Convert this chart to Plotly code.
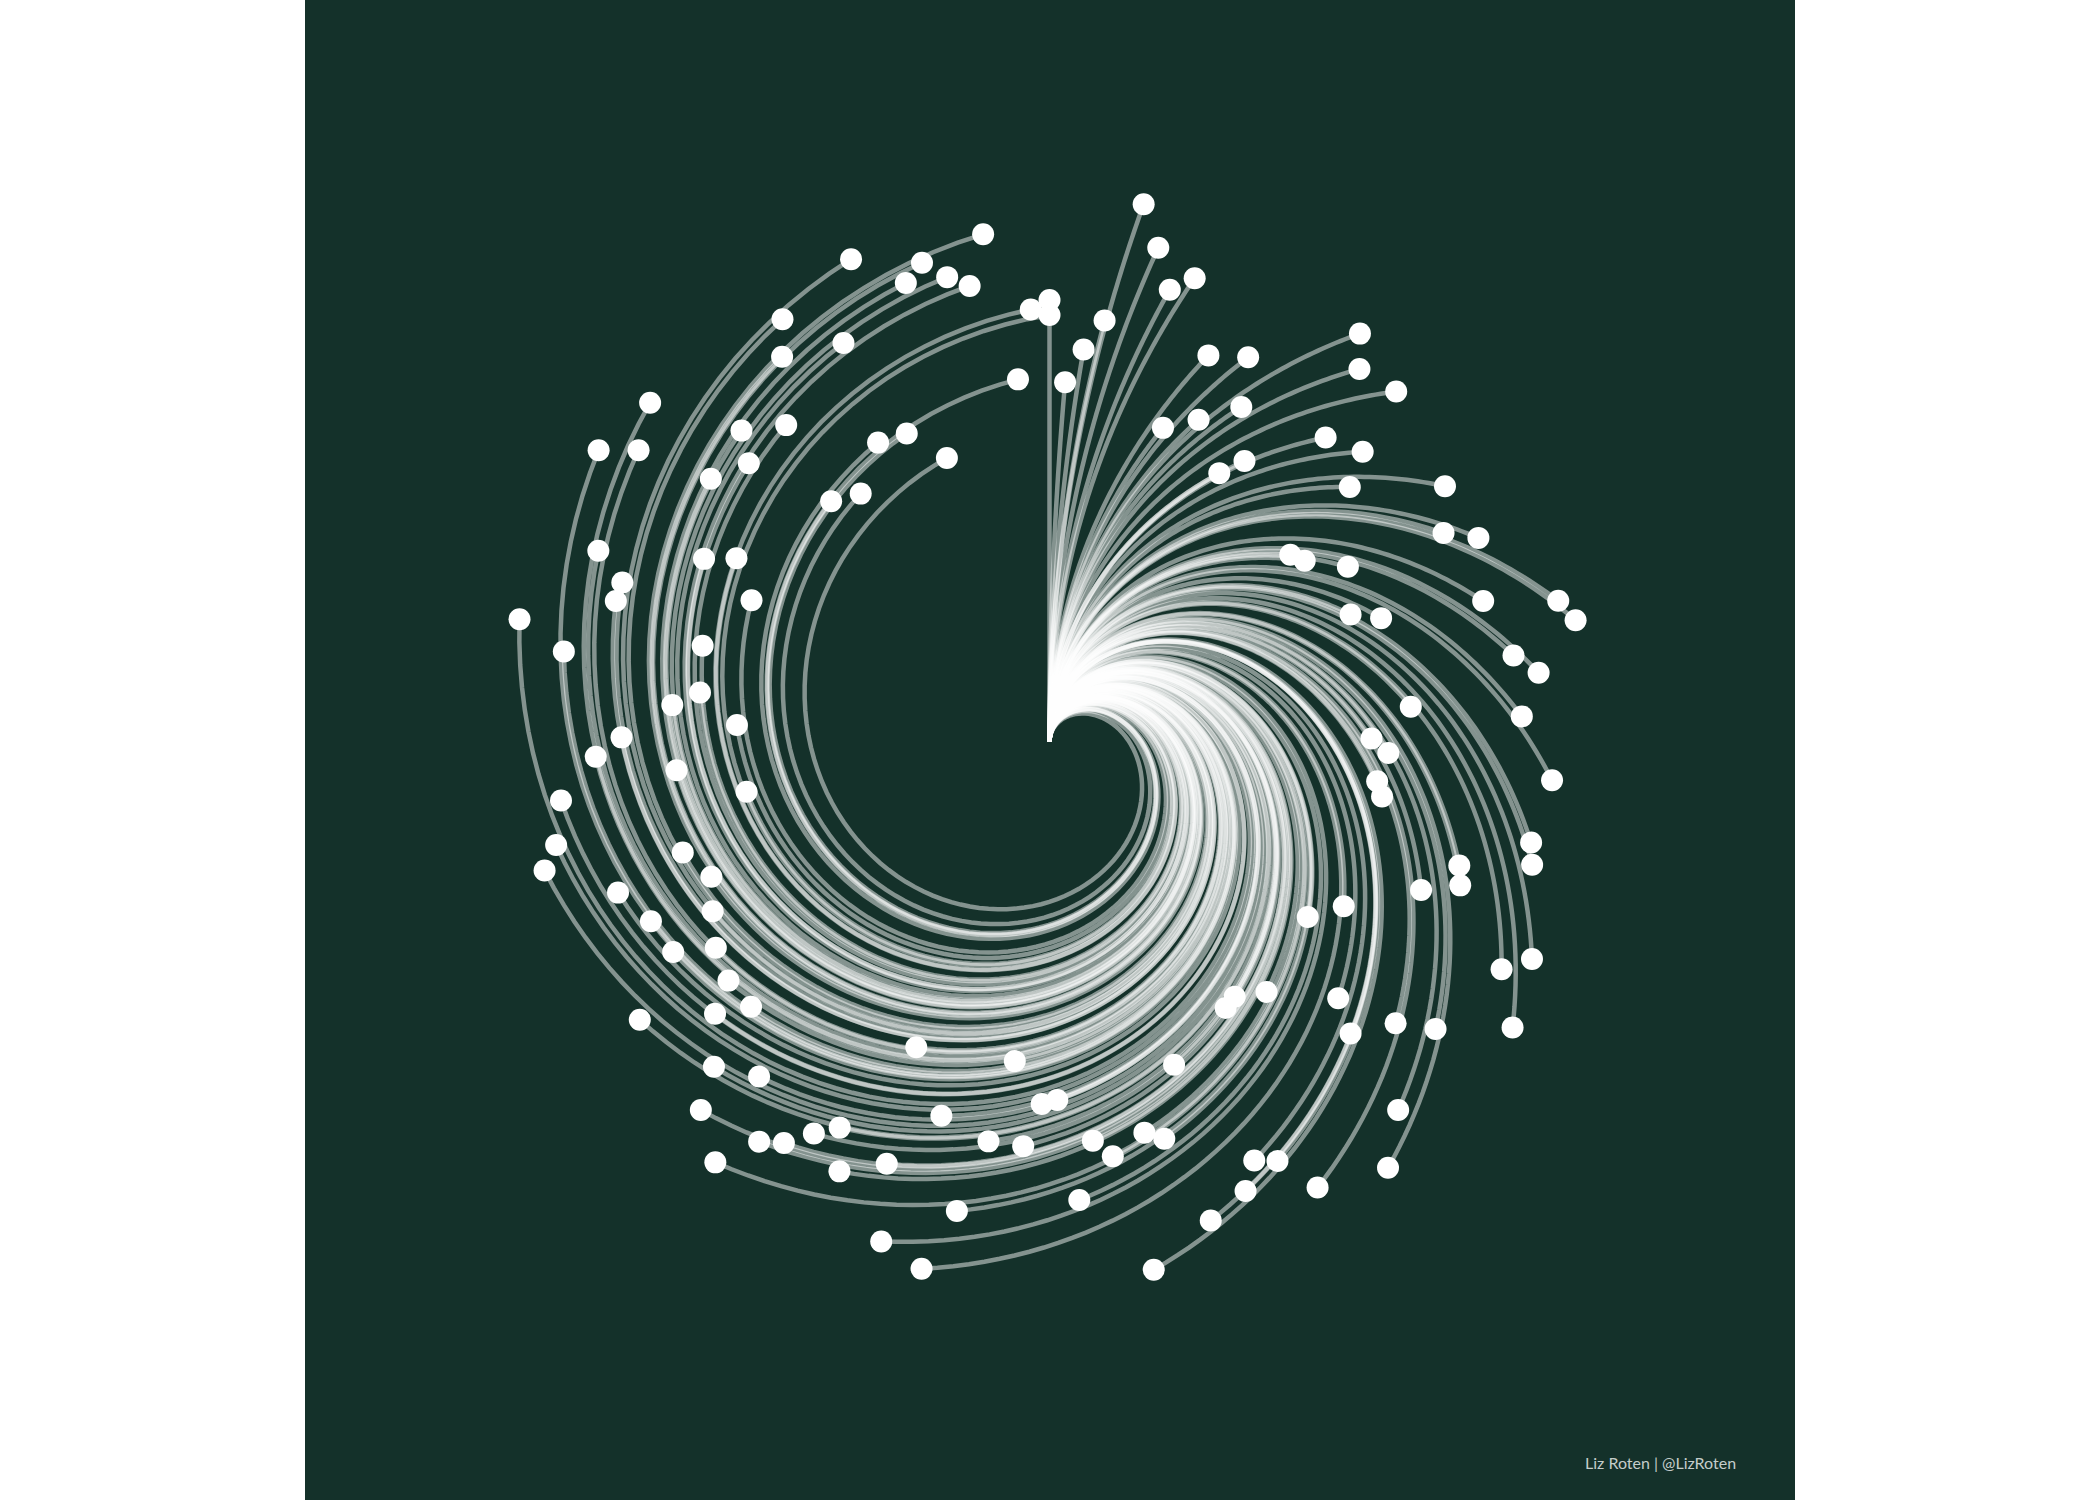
import numpy as np
import plotly.graph_objects as go

# ---- data: one radius value per item, items evenly spread clockwise from 12 o'clock ----
item_index = list(range(146))
radius = [
    442, 360, 394, 425, 546, 506, 468, 486, 334, 418,
    355, 433, 386, 318, 342, 513, 485, 411, 493, 427,
    394, 305, 313, 471, 346, 446, 475, 327, 354, 456,
    528, 540, 472, 494, 363, 473, 322, 339, 504, 330,
    337, 492, 498, 428, 435, 400, 529, 506, 337, 544,
    312, 481, 446, 386, 419, 507, 331, 544, 315, 319,
    520, 477, 466, 490, 346, 505, 413, 402, 538, 419,
    401, 459, 358, 362, 405, 321, 404, 478, 542, 389,
    527, 452, 333, 478, 439, 457, 481, 494, 537, 443,
    507, 467, 399, 431, 400, 495, 392, 431, 377, 437,
    364, 457, 383, 521, 504, 307, 492, 374, 454, 428,
    313, 379, 353, 494, 544, 360, 456, 456, 490, 330,
    391, 363, 537, 504, 429, 524, 410, 438, 325, 412,
    312, 469, 500, 345, 449, 340, 522, 302, 481, 496,
    476, 463, 512, 364, 433, 427,
]
credit = "Liz Roten | @LizRoten"

BG = "#14312a"
W, H = 2100, 1500
PANEL_X0, PANEL_X1 = 305, 1795
CX, CY = 1049.5, 742          # pixel centre of the spiral
HALF = 600                    # pixel radius of the polar area
R_MAX = 600

n_last = item_index[-1]
angles = [360.0 * i / n_last for i in item_index]

fig = go.Figure()

t = np.linspace(0.0, 1.0, 120)
for a, r in zip(angles, radius):
    fig.add_trace(go.Scatterpolar(
        r=r * t, theta=a * t, mode="lines",
        line=dict(color="rgba(255,255,255,0.48)", width=4.5),
        hoverinfo="skip", showlegend=False,
    ))

fig.add_trace(go.Scatterpolar(
    r=radius, theta=angles, mode="markers",
    marker=dict(color="white", size=22, line=dict(width=0)),
    showlegend=False, hoverinfo="r+theta",
))

fig.update_layout(
    width=W, height=H,
    margin=dict(l=0, r=0, t=0, b=0),
    paper_bgcolor="white",
    plot_bgcolor="white",
    polar=dict(
        domain=dict(x=[(CX - HALF) / W, (CX + HALF) / W],
                    y=[(H - CY - HALF) / H, (H - CY + HALF) / H]),
        bgcolor="rgba(0,0,0,0)",
        radialaxis=dict(range=[0, R_MAX], visible=False, showgrid=False,
                        showline=False, showticklabels=False, ticks=""),
        angularaxis=dict(rotation=90, direction="clockwise", visible=False,
                         showgrid=False, showline=False, showticklabels=False,
                         ticks=""),
    ),
    shapes=[dict(type="rect", xref="paper", yref="paper",
                 x0=PANEL_X0 / W, x1=PANEL_X1 / W, y0=0, y1=1,
                 fillcolor=BG, line=dict(width=0), layer="below")],
    annotations=[dict(text=credit, xref="paper", yref="paper",
                      x=1738 / W, y=1 - 1462 / H, xanchor="right", yanchor="middle",
                      showarrow=False,
                      font=dict(family="Lato, Open Sans, sans-serif", size=16,
                                color="#c5cdca"))],
)

fig.write_html("out.html",
               config={"displayModeBar": False},
               post_script="document.body.style.margin='0';document.body.style.overflow='hidden';")
